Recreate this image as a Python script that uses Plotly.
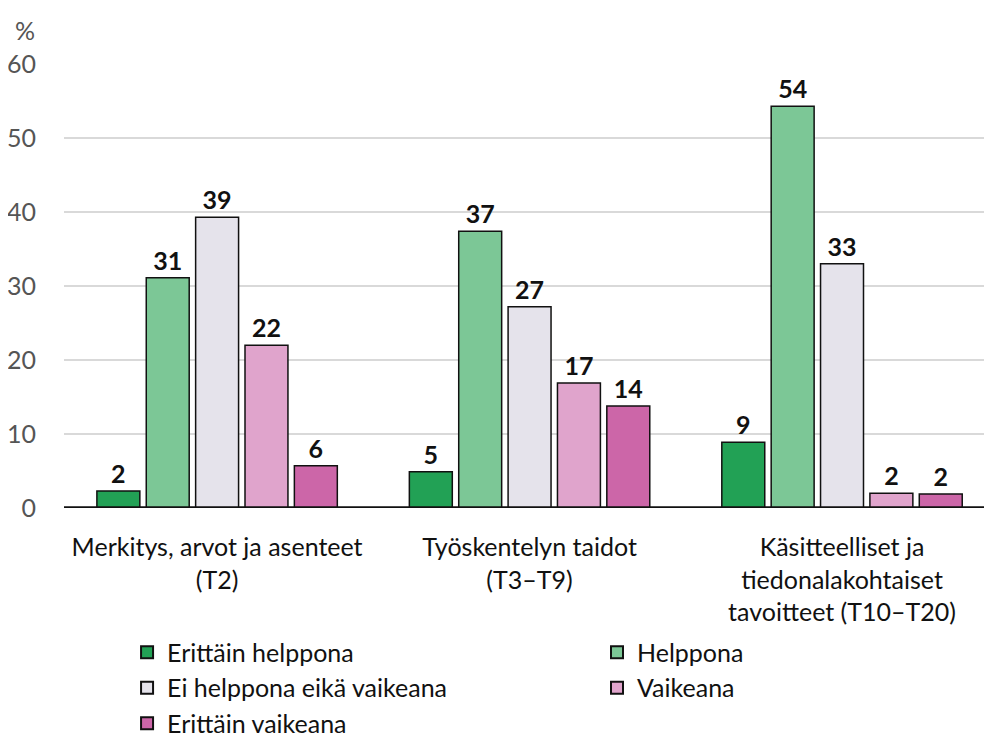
import plotly.graph_objects as go

categories = ["Merkitys, arvot ja asenteet<br>(T2)",
              "Työskentelyn taidot<br>(T3–T9)",
              "Käsitteelliset ja<br>tiedonalakohtaiset<br>tavoitteet (T10–T20)"]
series_names = ["Erittäin helppona", "Helppona", "Ei helppona eikä vaikeana",
                "Vaikeana", "Erittäin vaikeana"]
erittain_helppona = [2.3, 4.9, 8.9]
helppona = [31.1, 37.4, 54.3]
ei_kumpikaan = [39.3, 27.2, 33.0]
vaikeana = [22.0, 16.9, 2.0]
erittain_vaikeana = [5.7, 13.8, 1.9]
y_ticks = [0, 10, 20, 30, 40, 50, 60]

colors = ["#22a155", "#7cc796", "#e5e3eb", "#e0a4cc", "#cc66a8"]
values = [erittain_helppona, helppona, ei_kumpikaan, vaikeana, erittain_vaikeana]
legend_ids = ["legend", "legend2", "legend", "legend2", "legend"]

FONT = "Lato"
FS = 25
fig = go.Figure()
for name, vals, col, lg in zip(series_names, values, colors, legend_ids):
    fig.add_trace(go.Bar(
        x=categories, y=vals, name=name, showlegend=False,
        marker=dict(color=col, line=dict(color="#111111", width=1.5)),
        texttemplate="%{y:.0f}", textposition="outside", cliponaxis=False,
        textfont=dict(family=FONT, size=FS, color="#111111", weight="bold"),
    ))
    fig.add_trace(go.Scatter(
        x=[None], y=[None], mode="markers", name=name, showlegend=True,
        legend=lg,
        marker=dict(symbol="square", size=18, color=col,
                    line=dict(color="#111111", width=1.5)),
    ))

leg_common = dict(orientation="v", xref="container", yref="container",
                  xanchor="left", yanchor="top", traceorder="normal",
                  font=dict(family=FONT, size=FS, color="#111111"),
                  itemsizing="constant", bgcolor="rgba(0,0,0,0)")

fig.update_layout(
    width=984, height=732,
    margin=dict(l=56, r=0, t=56, b=232, autoexpand=False),
    paper_bgcolor="white", plot_bgcolor="white",
    barmode="group", bargap=0.21, bargroupgap=0.13,
    font=dict(family=FONT, size=FS, color="#111111"),
    showlegend=True,
    legend=dict(x=0.121, y=0.151, **leg_common),
    legend2=dict(x=0.5986, y=0.151, **leg_common),
)
fig.update_xaxes(range=[-0.49, 2.48], showgrid=False, ticks="", showline=False,
                 automargin=False, ticklabelstandoff=22,
                 tickfont=dict(family=FONT, size=FS, color="#111111"))
fig.update_yaxes(range=[0, 60], tickvals=y_ticks, showgrid=True, gridcolor="#d9d9d9",
                 gridwidth=1.5, zeroline=False, showline=False, automargin=False,
                 ticklabelstandoff=27,
                 tickfont=dict(family=FONT, size=FS, color="#555555"))
fig.add_shape(type="line", xref="paper", yref="y", x0=0, x1=1, y0=0, y1=0,
              line=dict(color="#111111", width=3.5))
fig.add_annotation(text="%", xref="paper", yref="paper", x=-0.029, y=1.0,
                   xanchor="right", yanchor="middle", yshift=34, showarrow=False,
                   font=dict(family=FONT, size=25, color="#555555"))

fig.write_html("out.html")
